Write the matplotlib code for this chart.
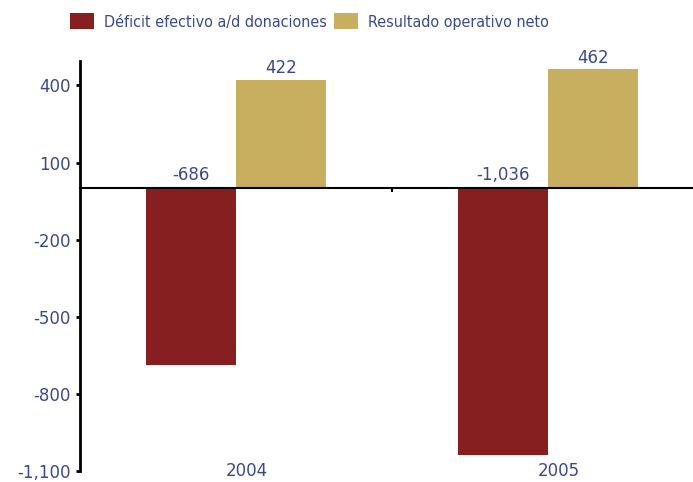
import numpy as np
import matplotlib.pyplot as plt
from matplotlib.transforms import ScaledTranslation

# Data
years = ['2004', '2005']
deficit = [-686, -1036]
resultado = [422, 462]
deficit_labels = ['-686', '-1,036']
resultado_labels = ['422', '462']
yticks = [400, 100, -200, -500, -800, -1100]
ytick_labels = ['400', '100', '-200', '-500', '-800', '-1,100']

red = '#861f1f'
gold = '#c8af5f'
txt = '#3b4a8c'

fig = plt.figure(figsize=(6.93, 4.82), dpi=100)
ax = fig.add_axes([80/693, 1 - 471/482, 613/693, 410/482])

x = np.arange(len(years))
w = 0.288
ax.bar(x - w/2, deficit, w, color=red, label='Déficit efectivo a/d donaciones', zorder=2)
ax.bar(x + w/2, resultado, w, color=gold, label='Resultado operativo neto', zorder=2)

# value labels
for xi, v in zip(x, deficit_labels):
    ax.annotate(v, (xi - w/2, 0), xytext=(0, 3), textcoords='offset points',
                ha='center', va='bottom', color=txt, fontsize=12)
for xi, val, v in zip(x, resultado, resultado_labels):
    ax.annotate(v, (xi + w/2, val), xytext=(0, 2), textcoords='offset points',
                ha='center', va='bottom', color=txt, fontsize=12)

ax.set_xlim(-0.5, 1.465)
ax.set_ylim(-1100, 495)

# axes styling
for s in ['top', 'right']:
    ax.spines[s].set_visible(False)
ax.spines['left'].set_linewidth(2)
ax.spines['bottom'].set_position(('data', 0))
ax.spines['bottom'].set_linewidth(1.5)
ax.spines['bottom'].set_zorder(3)

ax.set_yticks(yticks)
ax.set_yticklabels(ytick_labels)
ax.tick_params(axis='y', length=3, width=2, colors='black', labelcolor=txt,
               labelsize=12, pad=4)
ax.set_xticks([0.5])
ax.set_xticklabels([''])
ax.tick_params(axis='x', length=3, width=1.5, direction='out')

# category labels at the bottom
off = ScaledTranslation(11/100, 0, fig.dpi_scale_trans)
for xi, lab in zip(x, years):
    ax.text(xi, -1100, lab, ha='center', va='center', color=txt, fontsize=12,
            transform=ax.transData + off, clip_on=False)

# legend
leg = fig.legend(loc='upper left', bbox_to_anchor=(70/693, 1 - 13/482), ncol=2,
                 frameon=False, borderpad=0, borderaxespad=0,
                 handlelength=1.5, handleheight=1.2,
                 columnspacing=0.5, handletextpad=0.6,
                 prop={'family': 'DejaVu Sans', 'stretch': 'condensed', 'size': 11.5})
for t in leg.get_texts():
    t.set_color(txt)

fig.savefig('out.png', dpi=100)
